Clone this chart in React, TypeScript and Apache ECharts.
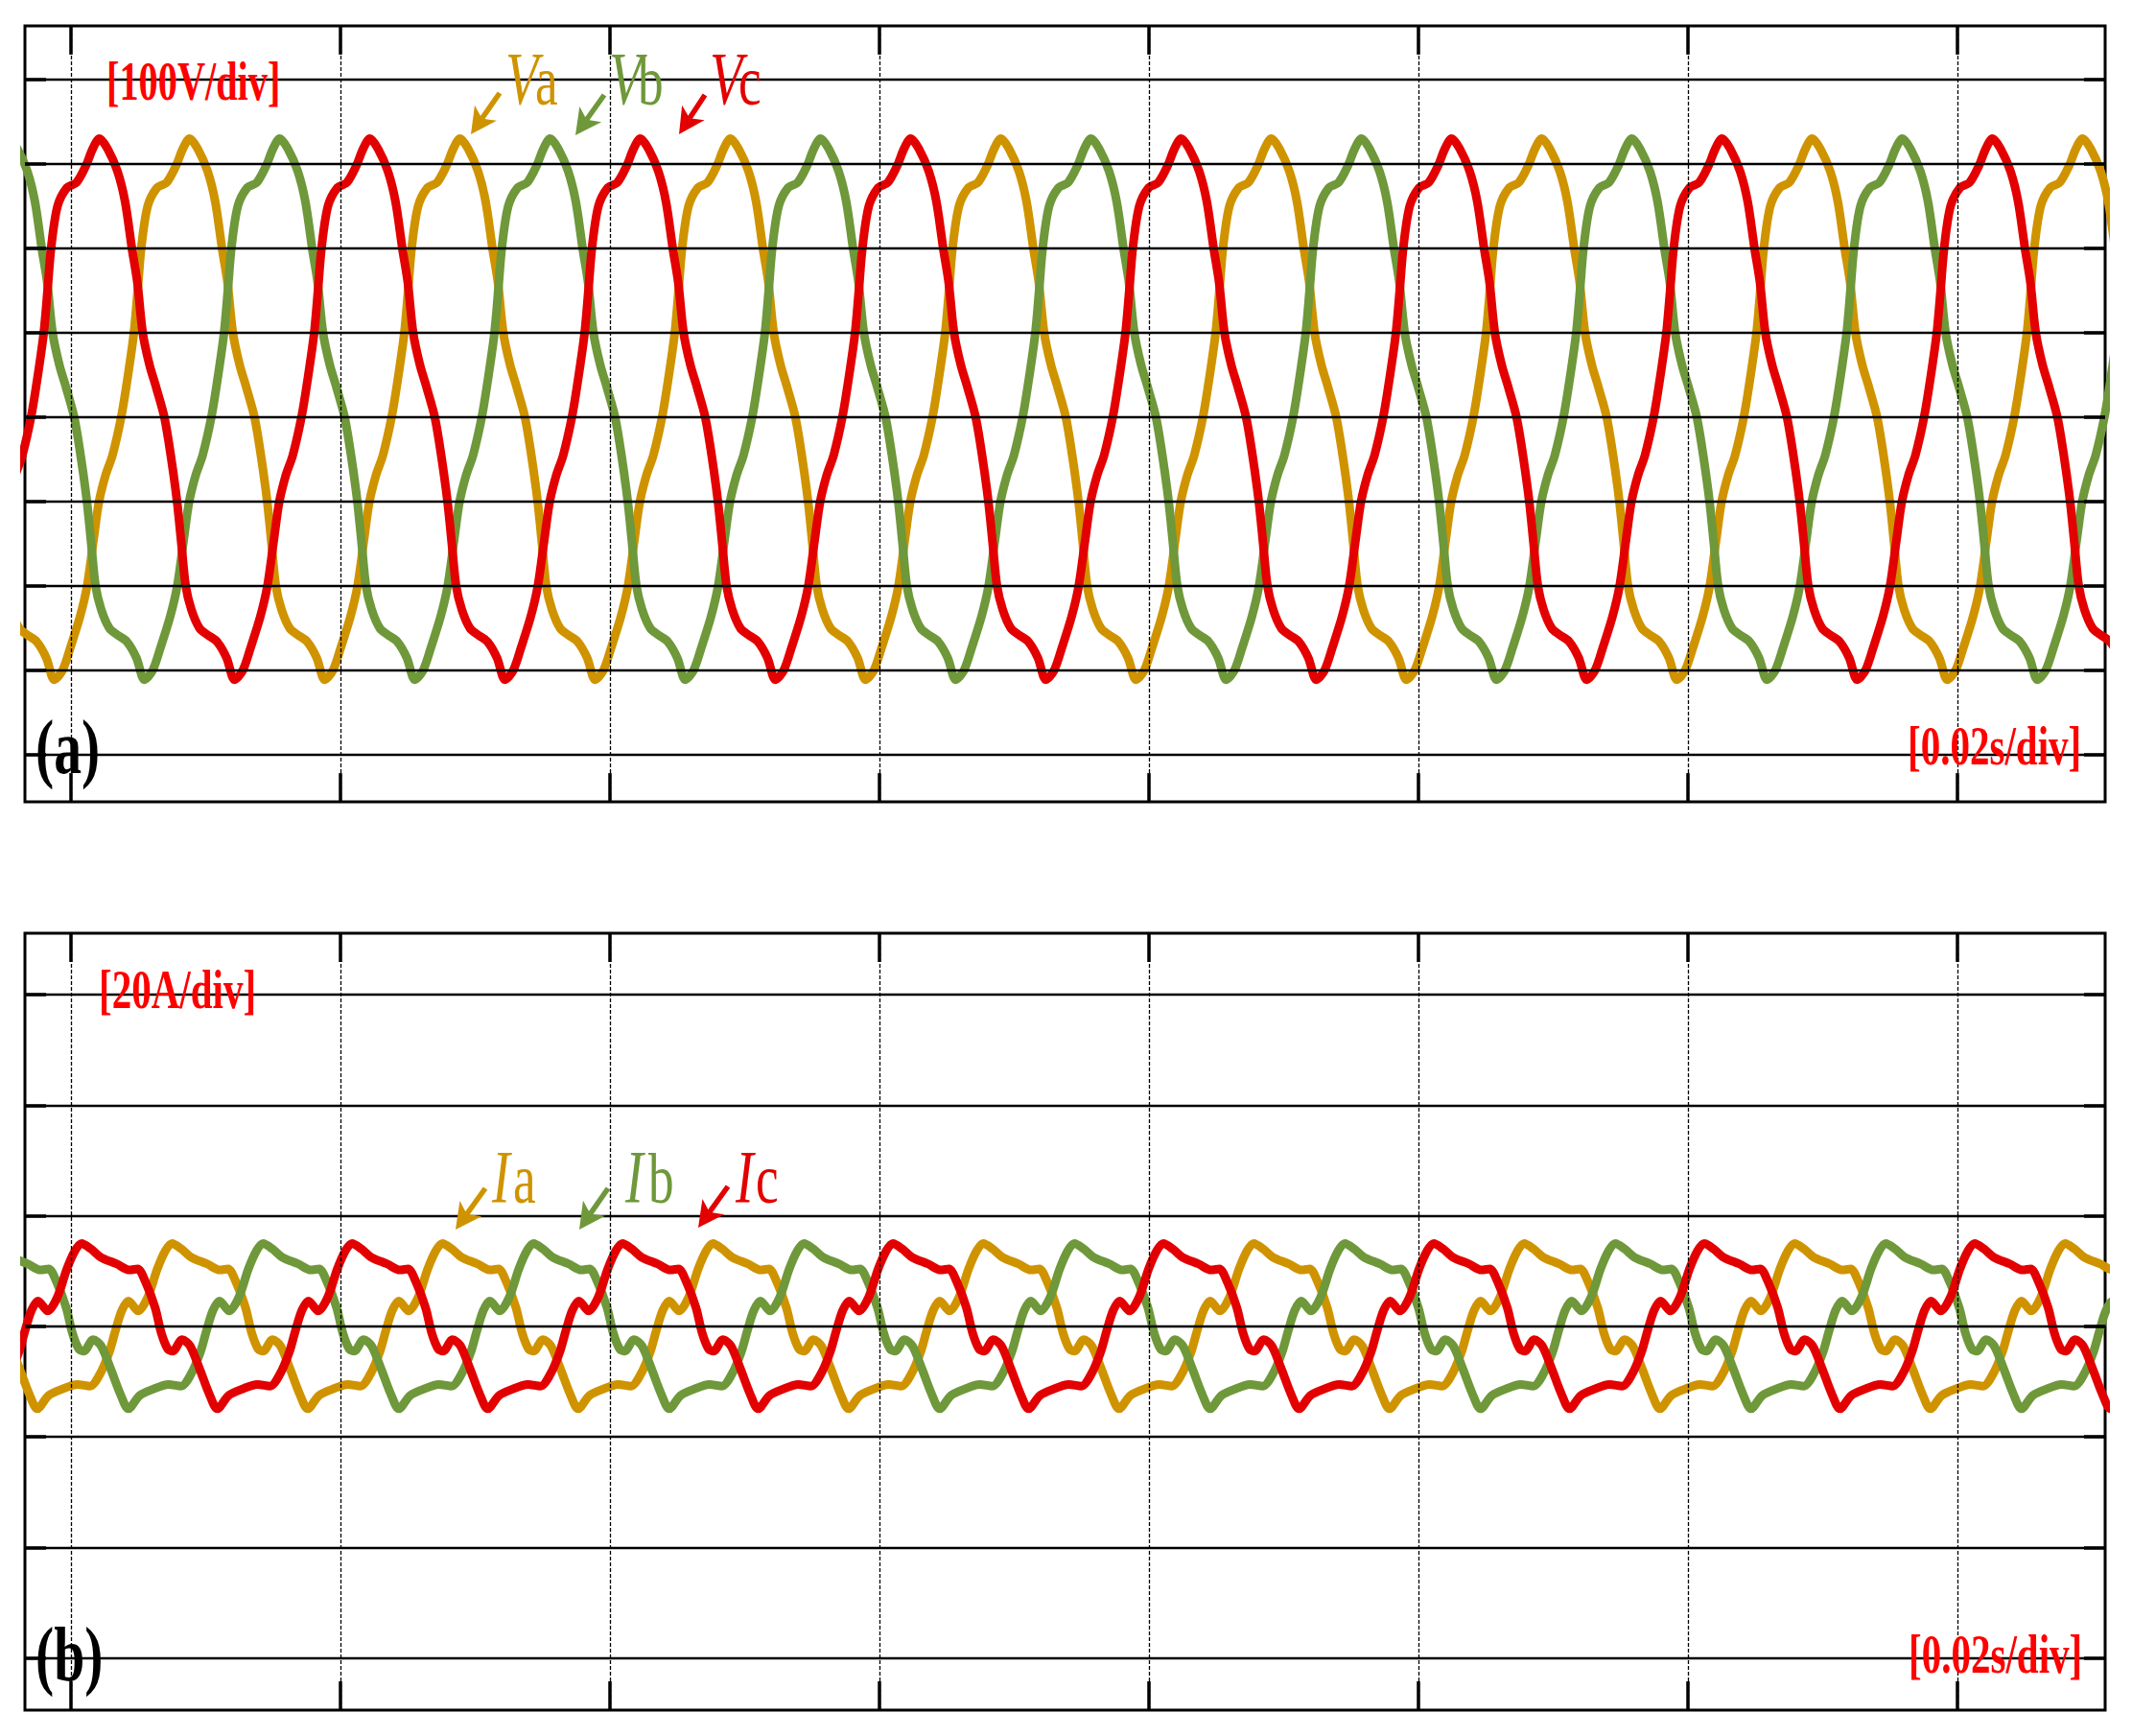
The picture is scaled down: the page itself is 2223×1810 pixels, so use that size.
import React, { useEffect, useRef } from "react";
import * as echarts from "echarts";

// ---------- time axis (ms) ----------
const timeRangeMs = [0, 154.38];
const timeGridMs = [3.42, 23.42, 43.42, 63.42, 83.42, 103.42, 123.42, 143.42];
const periodMs = 20.07;

// ---------- panel (a): phase voltages, 100 V/div ----------
const voltRange = [-455.7, 463.6];
const voltGrid = [-400, -300, -200, -100, 0, 100, 200, 300, 400];
// one cycle of a phase voltage (tau = fraction of a period after the peak)
const vCycleTau = [0, 0.03, 0.067, 0.095, 0.12, 0.14, 0.16, 0.185, 0.21, 0.24, 0.265, 0.287, 0.303, 0.319, 0.34, 0.37, 0.4, 0.435, 0.47, 0.5, 0.53, 0.56, 0.595, 0.621, 0.645, 0.665, 0.69, 0.715, 0.747, 0.77, 0.794, 0.808, 0.821, 0.845, 0.88, 0.915, 0.95, 0.975, 1.0];
const vCycleVolts = [330, 318, 291, 255, 200, 160, 100, 62, 35, 0, -48, -100, -150, -200, -228, -250, -258, -266, -285, -311, -300, -272, -236, -200, -145, -100, -68, -45, 0, 45, 100, 150, 200, 250, 272, 278, 298, 318, 330];
// time (ms) of the first peak of each phase
const vPeakMs = { a: 12.22, b: 18.91, c: 5.53 };

// ---------- panel (b): phase currents, 20 A/div ----------
const ampRange = [-69.4, 71.1];
const ampGrid = [-60, -40, -20, 0, 20, 40, 60];
const iCycleTau = [0, 0.035, 0.071, 0.13, 0.177, 0.207, 0.236, 0.272, 0.295, 0.319, 0.337, 0.372, 0.401, 0.436, 0.472, 0.502, 0.544, 0.591, 0.65, 0.697, 0.733, 0.768, 0.792, 0.815, 0.839, 0.875, 0.91, 0.946, 0.975, 1.0];
const iCycleAmps = [15.0, 14.0, 12.5, 11.3, 10.2, 10.4, 8.1, 3.4, -1.2, -4.1, -4.5, -2.4, -3.5, -7.6, -12.2, -14.9, -12.5, -11.4, -10.5, -10.8, -8.7, -4.7, -0.6, 2.9, 4.6, 2.8, 5.2, 10.4, 13.6, 15.0];
const iPeakMs = { a: 10.91, b: 17.67, c: 4.2 };

const cycleIndex = [-1, 0, 1, 2, 3, 4, 5, 6, 7, 8];

const COLORS = { a: "#CF9300", b: "#6E983A", c: "#E30000" };
const LABEL_RED = "#FF0000";
const FONT = "'Liberation Serif', 'Times New Roman', serif";

function buildTrace(peak: number, tau: number[], vals: number[]) {
  const pts: number[][] = [];
  cycleIndex.forEach((k) => {
    for (let i = 0; i < tau.length - 1; i++) {
      pts.push([peak + (k + tau[i]) * periodMs, vals[i]]);
    }
  });
  return pts.filter((p) => p[0] > timeRangeMs[0] - 6 && p[0] < timeRangeMs[1] + 6);
}

function gridMarks(yVals: number[], yMin: number, yMax: number, tickY: number) {
  const tickT = 1.57;
  const tickStyle = { type: "solid", width: 3.5, color: "#000" };
  const data: any[] = [];
  timeGridMs.forEach((t) => data.push({ xAxis: t, lineStyle: { type: [4, 2], width: 1.3, color: "#000" } }));
  yVals.forEach((v) => data.push({ yAxis: v, lineStyle: { type: "solid", width: 2.4, color: "#000" } }));
  timeGridMs.forEach((t) => {
    data.push([{ coord: [t, yMax], lineStyle: tickStyle }, { coord: [t, yMax - tickY] }]);
    data.push([{ coord: [t, yMin], lineStyle: tickStyle }, { coord: [t, yMin + tickY] }]);
  });
  yVals.forEach((v) => {
    data.push([{ coord: [timeRangeMs[0], v], lineStyle: tickStyle }, { coord: [timeRangeMs[0] + tickT, v] }]);
    data.push([{ coord: [timeRangeMs[1], v], lineStyle: tickStyle }, { coord: [timeRangeMs[1] - tickT, v] }]);
  });
  return data;
}

function arrow(x1: number, y1: number, x2: number, y2: number, color: string) {
  const dx = x2 - x1, dy = y2 - y1;
  const L = Math.hypot(dx, dy);
  const ux = dx / L, uy = dy / L;
  const hl = 27, hw = 14, notch = 7;
  const bx = x2 - ux * hl, by = y2 - uy * hl;
  const px = -uy, py = ux;
  return [
    { type: "line", z: 100, shape: { x1, y1, x2: bx + ux * notch, y2: by + uy * notch }, style: { stroke: color, lineWidth: 5.5 } },
    {
      type: "polygon", z: 100,
      shape: { points: [[x2, y2], [bx + px * hw, by + py * hw], [bx + ux * notch, by + uy * notch], [bx - px * hw, by - py * hw]] },
      style: { fill: color },
    },
  ];
}

function txt(text: string, x: number, y: number, size: number, color: string, bold: boolean, italic: boolean) {
  const fs = italic ? "italic" : "normal";
  const fw = bold ? "bold" : "normal";
  return {
    type: "text", x, y, scaleX: 0.72, z: 100,
    style: {
      text, fill: color, fontSize: size, fontFamily: FONT, fontWeight: fw, fontStyle: fs,
      font: `${fs} ${fw} ${size}px ${FONT}`,
      textAlign: "left", textVerticalAlign: "middle", align: "left", verticalAlign: "middle",
    },
  };
}

function lineSeries(name: string, data: number[][], color: string, gi: number) {
  return {
    name, type: "line", xAxisIndex: gi, yAxisIndex: gi, data, showSymbol: false, symbol: "none",
    smooth: 0.3, z: 2, silent: true, clip: true,
    lineStyle: { color, width: 9, cap: "round", join: "round" }, emphasis: { disabled: true },
  };
}

export default function App() {
  const ref = useRef<HTMLDivElement>(null);
  useEffect(() => {
    if (!ref.current) return;
    const chart = echarts.init(ref.current, undefined, { renderer: "svg" });
    const markSeries = (gi: number, yVals: number[], range: number[], tickY: number) => ({
      type: "line", xAxisIndex: gi, yAxisIndex: gi, data: [[timeRangeMs[0], range[0]]],
      symbol: "none", lineStyle: { opacity: 0 }, z: 5, silent: true,
      markLine: { silent: true, symbol: ["none", "none"], label: { show: false }, animation: false, data: gridMarks(yVals, range[0], range[1], tickY) },
    });
    const graphics: any[] = [
      txt("[100V/div]", 111, 86, 56, LABEL_RED, true, false),
      txt("[0.02s/div]", 1989, 778, 57, LABEL_RED, true, false),
      txt("(a)", 37, 779, 80, "#000", true, false),
      txt("[20A/div]", 103, 1032, 57, LABEL_RED, true, false),
      txt("[0.02s/div]", 1990, 1725, 57, LABEL_RED, true, false),
      txt("(b)", 37, 1725, 80, "#000", true, false),
      txt("V", 527, 82, 78, COLORS.a, false, true), txt("a", 558, 84, 74, COLORS.a, false, false),
      txt("V", 635, 82, 78, COLORS.b, false, true), txt("b", 665, 84, 74, COLORS.b, false, false),
      txt("V", 740, 82, 78, COLORS.c, false, true), txt("c", 770, 84, 74, COLORS.c, false, false),
      txt("I", 513, 1227, 78, COLORS.a, false, true), txt("a", 535, 1229, 74, COLORS.a, false, false),
      txt("I", 652, 1227, 78, COLORS.b, false, true), txt("b", 676, 1229, 74, COLORS.b, false, false),
      txt("I", 767, 1227, 78, COLORS.c, false, true), txt("c", 788, 1229, 74, COLORS.c, false, false),
      ...arrow(521, 97, 491, 140, COLORS.a),
      ...arrow(630, 99, 600, 141, COLORS.b),
      ...arrow(735, 99, 708, 140, COLORS.c),
      ...arrow(506, 1239, 475, 1282, COLORS.a),
      ...arrow(634, 1239, 604, 1282, COLORS.b),
      ...arrow(759, 1237, 728, 1280, COLORS.c),
    ];
    chart.setOption({
      animation: false,
      backgroundColor: "#fff",
      grid: [
        { left: 26, top: 27, width: 2169, height: 809, show: true, borderColor: "#000", borderWidth: 3, backgroundColor: "transparent", containLabel: false },
        { left: 26, top: 973, width: 2169, height: 810, show: true, borderColor: "#000", borderWidth: 3, backgroundColor: "transparent", containLabel: false },
      ],
      xAxis: [
        { gridIndex: 0, type: "value", min: timeRangeMs[0], max: timeRangeMs[1], show: false },
        { gridIndex: 1, type: "value", min: timeRangeMs[0], max: timeRangeMs[1], show: false },
      ],
      yAxis: [
        { gridIndex: 0, type: "value", min: voltRange[0], max: voltRange[1], show: false },
        { gridIndex: 1, type: "value", min: ampRange[0], max: ampRange[1], show: false },
      ],
      series: [
        lineSeries("Va", buildTrace(vPeakMs.a, vCycleTau, vCycleVolts), COLORS.a, 0),
        lineSeries("Vb", buildTrace(vPeakMs.b, vCycleTau, vCycleVolts), COLORS.b, 0),
        lineSeries("Vc", buildTrace(vPeakMs.c, vCycleTau, vCycleVolts), COLORS.c, 0),
        lineSeries("Ia", buildTrace(iPeakMs.a, iCycleTau, iCycleAmps), COLORS.a, 1),
        lineSeries("Ib", buildTrace(iPeakMs.b, iCycleTau, iCycleAmps), COLORS.b, 1),
        lineSeries("Ic", buildTrace(iPeakMs.c, iCycleTau, iCycleAmps), COLORS.c, 1),
        markSeries(0, voltGrid, voltRange, 34),
        markSeries(1, ampGrid, ampRange, 5.2),
      ],
      graphic: graphics,
    });
    return () => chart.dispose();
  }, []);
  return (
    <div
      ref={ref}
      style={{ position: "fixed", left: 0, top: 0, width: 2223, height: 1810, background: "#fff" }}
    />
  );
}
